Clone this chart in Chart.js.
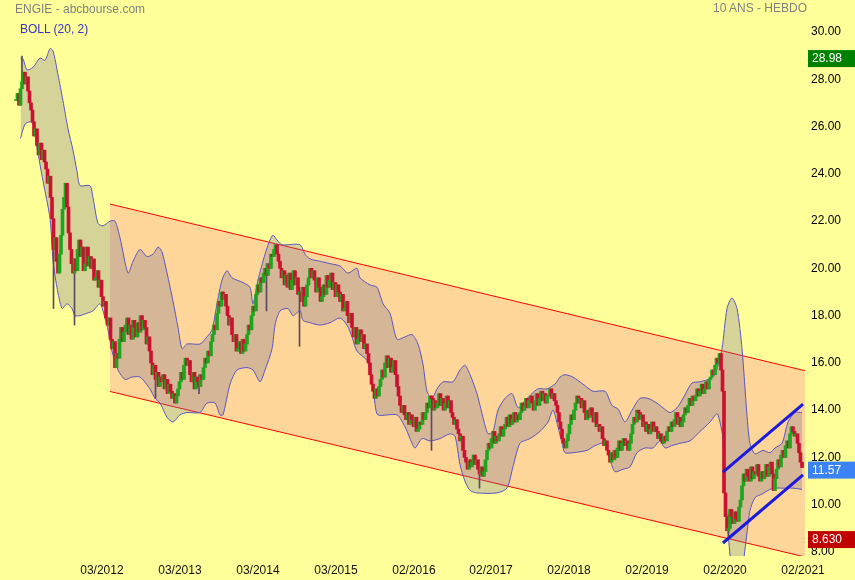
<!DOCTYPE html>
<html><head><meta charset="utf-8">
<script src="https://cdn.jsdelivr.net/npm/chart.js@4.4.1/dist/chart.umd.min.js"></script>
<style>
html,body{margin:0;padding:0;background:#ffff99;}
#wrap{position:relative;width:855px;height:580px;background:#ffff99;}
canvas{display:block;}
.t{position:absolute;font:12px "Liberation Sans",Arial,sans-serif;white-space:nowrap;line-height:14px;}
</style></head><body>
<div id="wrap"><canvas id="c" width="855" height="580"></canvas>
<div class="t" style="left:15px;top:2px;color:#808080">ENGIE - abcbourse.com</div>
<div class="t" style="left:20px;top:22px;color:#3535c0">BOLL (20, 2)</div>
<div class="t" style="left:713px;top:1px;color:#808080">10 ANS - HEBDO</div>
</div>
<script>
// weekly closes (week index 0 = first week shown)
const closes = [
27.1, 27.4, 26.9, 27.6, 27.9, 28.3, 27.8, 28.1, 27.5, 27.0,
26.7, 26.2, 25.6, 25.9, 25.2, 24.8, 25.3, 24.6, 25.0, 24.5,
24.2, 23.6, 23.9, 23.0, 22.1, 20.8, 21.3, 20.3, 19.8, 20.6,
21.4, 22.5, 23.0, 23.6, 22.6, 21.5, 20.8, 20.2, 19.8, 20.4,
19.9, 20.8, 21.2, 20.5, 20.9, 19.9, 20.2, 20.9, 20.1, 20.5,
20.0, 20.4, 19.5, 19.6, 19.9, 19.2, 19.5, 18.8, 18.4, 18.6,
17.9, 17.6, 17.9, 17.0, 16.6, 16.9, 15.8, 16.4, 16.2, 17.0,
17.5, 16.9, 17.3, 17.6, 17.9, 17.2, 17.6, 17.0, 17.8, 17.5,
17.1, 17.7, 17.3, 18.0, 17.4, 17.8, 17.5, 16.8, 17.1, 16.5,
16.0, 15.5, 15.9, 15.3, 15.6, 15.0, 15.4, 15.2, 15.5, 14.9,
15.3, 14.7, 15.1, 14.8, 14.5, 14.7, 14.3, 14.6, 14.9, 15.2,
15.6, 15.3, 15.9, 16.2, 15.9, 16.1, 15.5, 15.2, 15.6, 14.9,
15.4, 15.2, 15.0, 15.5, 15.3, 15.8, 16.2, 16.0, 16.5, 16.3,
16.9, 17.2, 17.6, 17.4, 18.1, 18.6, 18.4, 19.0, 18.7, 18.9,
18.4, 18.0, 17.6, 17.9, 17.2, 16.9, 17.2, 16.5, 16.6, 16.9,
16.4, 17.0, 16.5, 16.8, 17.2, 17.6, 17.4, 18.0, 18.4, 18.2,
18.9, 19.3, 19.0, 19.6, 19.4, 19.8, 20.0, 19.7, 20.2, 20.0,
20.6, 20.5, 20.8, 21.0, 20.6, 20.3, 20.0, 19.6, 19.9, 19.3,
19.7, 19.2, 19.8, 19.1, 19.5, 19.9, 19.3, 19.6, 18.9, 19.0,
18.6, 19.2, 18.4, 18.8, 19.3, 19.6, 20.0, 19.6, 19.9, 19.5,
19.0, 19.6, 19.2, 18.6, 18.8, 19.3, 18.9, 19.7, 19.2, 19.5,
19.8, 19.1, 19.4, 18.8, 19.3, 19.0, 18.6, 18.9, 18.2, 18.3,
18.6, 18.0, 17.7, 18.1, 17.5, 17.1, 17.5, 16.8, 17.0, 17.4,
16.9, 17.2, 16.6, 16.8, 16.4, 16.0, 15.5, 15.1, 14.8, 14.5,
14.9, 14.6, 15.0, 15.3, 15.7, 15.4, 16.0, 16.3, 15.8, 16.2,
15.6, 15.8, 16.1, 15.5, 15.0, 14.6, 14.2, 13.9, 14.2, 13.8,
13.6, 13.9, 13.4, 13.8, 13.6, 13.3, 13.7, 13.1, 13.2, 13.5,
13.4, 13.9, 13.6, 13.9, 14.3, 14.1, 14.6, 14.5, 14.0, 14.4,
14.1, 14.3, 14.7, 14.2, 14.5, 14.0, 14.3, 14.6, 14.1, 14.4,
13.9, 13.7, 13.4, 13.6, 13.2, 13.0, 12.7, 12.9, 12.3, 12.0,
11.8, 11.5, 11.9, 11.6, 11.8, 12.1, 11.7, 11.9, 11.5, 11.3,
11.6, 11.2, 11.4, 11.9, 12.3, 12.6, 12.4, 12.8, 13.1, 12.6,
12.9, 12.7, 13.0, 13.3, 12.9, 13.2, 13.4, 13.7, 13.3, 13.8,
13.4, 13.6, 13.9, 13.5, 13.8, 13.6, 13.9, 14.3, 14.0, 14.2,
14.5, 14.1, 14.4, 14.6, 14.3, 14.0, 14.4, 14.7, 14.2, 14.5,
14.8, 14.4, 14.7, 14.3, 14.6, 14.6, 14.9, 14.5, 14.7, 14.4,
14.2, 13.9, 13.5, 13.2, 12.8, 12.6, 12.4, 12.7, 13.0, 13.4,
13.8, 13.6, 14.0, 14.3, 14.6, 14.3, 14.5, 14.1, 14.4, 13.9,
13.6, 14.0, 13.7, 14.1, 13.8, 13.5, 13.9, 13.3, 13.4, 13.1,
13.3, 12.8, 12.5, 12.7, 12.3, 12.1, 11.8, 12.2, 11.9, 12.3,
12.0, 12.4, 12.7, 12.3, 12.6, 12.8, 12.5, 12.7, 12.3, 12.6,
13.0, 13.4, 13.7, 13.5, 14.0, 13.9, 13.6, 13.8, 13.3, 13.5,
13.1, 13.4, 13.0, 13.2, 13.5, 13.1, 13.3, 13.1, 12.8, 13.0,
12.7, 12.6, 12.9, 12.7, 13.1, 13.3, 13.1, 13.5, 13.3, 13.6,
13.9, 13.4, 13.7, 13.3, 13.5, 13.8, 14.1, 13.9, 14.2, 14.5,
14.2, 14.6, 14.4, 14.6, 14.9, 14.6, 14.8, 15.1, 14.7, 14.9,
15.2, 14.9, 15.3, 15.4, 15.7, 15.5, 15.9, 16.2, 16.0, 16.4,
15.7, 14.8, 10.5, 9.5, 8.9, 9.0, 9.8, 9.5, 9.2, 9.7,
9.4, 9.3, 9.9, 10.2, 10.8, 11.3, 11.0, 11.5, 11.2, 11.0,
11.6, 11.1, 11.4, 11.3, 11.7, 11.2, 11.0, 11.4, 11.1, 11.4,
11.7, 11.2, 11.6, 11.8, 11.3, 10.6, 11.1, 11.5, 11.9, 11.6,
12.1, 12.3, 12.0, 12.5, 12.7, 12.4, 13.0, 13.3, 13.1, 12.9,
13.0, 12.6, 12.2, 11.8, 11.57
];

// the long shadows visible in the picture: [week, low, high]
const notableWicks = [
[4, 27.6, 28.98], [25, 18.3, 21.3], [39, 17.6, 20.4], [93, 14.5, 15.9], [122, 14.7, 15.5],
[167, 18.2, 20.2], [189, 16.7, 19.2], [277, 12.3, 14.6], [309, 10.7, 11.6], [475, 8.63, 9.6]
];

// Bollinger (20,2) bands: [week, value]
const bollUpper = [
[3,28.9],[4.7,28.86],[7.3,28.4],[11.3,28.5],[16,28.9],[19.3,28.8],[22.7,29.3],[24.7,29.2],[28,28.2],[31.3,27.1],
[34.7,25.9],[38,25.0],[40.7,24.1],[42.7,23.5],[49.3,23.5],[51.3,23.0],[54.7,21.9],[58,21.8],[62.7,22.0],[66,22.0],
[69.3,21.3],[74.7,19.8],[78,20.3],[82.7,20.8],[87.3,20.5],[91.3,20.6],[94.7,20.9],[97.3,20.7],[100.7,19.8],[104.7,18.6],
[108,17.5],[110.7,16.6],[114,16.8],[122.7,16.8],[127.3,17.1],[130.7,17.4],[134,18.5],[137.3,19.5],[140.7,19.9],[144,19.6],
[151.3,19.4],[156,19.2],[158,18.5],[161.3,19.5],[166,20.6],[169.3,21.2],[171.3,21.4],[174,21.2],[177.3,21.0],[189.3,21.0],
[192.7,20.6],[196,20.4],[202.7,20.3],[209.3,20.2],[216,20.1],[221.3,19.8],[227.3,20.0],[229.3,19.6],[236,19.3],[240.7,19.2],
[244.7,18.5],[249.3,18.1],[254,17.0],[259.3,17.1],[264,17.2],[268,16.8],[271.3,15.95],[274,14.8],[277.3,14.5],[280.7,14.9],
[284.7,15.2],[291.3,15.2],[296,15.7],[299.3,15.9],[302.7,15.5],[307.3,14.7],[311.3,13.7],[314.7,13.0],[318,13.1],[321.3,14.0],
[326,14.5],[330.7,14.7],[334.7,14.1],[339.3,14.4],[344,14.7],[348,14.9],[354,14.9],[359.3,15.1],[362.7,15.4],[366,15.5],
[371.3,15.4],[378,15.1],[384.7,14.8],[392.7,14.8],[397.3,14.2],[401.3,14.05],[406,13.5],[410.7,14.0],[416,14.5],[421.3,14.5],
[427.3,14.3],[431.3,14.1],[436,13.9],[440.7,14.1],[444.7,14.5],[450.7,15.15],[456,15.2],[461.3,15.3],[466,15.5],[468,15.9],
[470.7,16.6],[474,18.3],[477.3,18.75],[480.7,18.3],[484,16.6],[487.3,13.8],[489.3,12.6],[492.7,12.15],[498,12.3],[502.7,12.2],
[506,12.4],[510.7,12.6],[514.7,13.5],[519.3,13.9],[524,13.9]
];
const bollLower = [
[3,25.5],[6,26.1],[9.3,26.2],[11.3,26.1],[14,25.1],[18,23.7],[22.7,22.1],[24.7,20.3],[27.3,19.2],[30.7,18.3],
[34,18.5],[37.3,18.3],[39.3,18.0],[42.7,18.0],[47.3,18.1],[51.3,18.2],[56,18.5],[59.3,17.9],[61.3,17.4],[64,16.5],
[68,15.7],[72.7,15.3],[77.3,15.4],[82.7,15.4],[89.3,14.9],[92.7,14.5],[96,14.3],[100.7,13.7],[104.7,13.5],[109.3,13.8],
[114,13.9],[122.7,13.9],[127.3,14.3],[132.7,14.3],[136,13.8],[138,13.8],[142.7,15.1],[147.3,15.7],[154,15.8],[158,15.7],
[162.7,15.2],[166,15.7],[170.7,16.6],[172.7,17.6],[176,18.2],[181.3,18.3],[184.7,18.0],[189.3,18.2],[191.3,17.8],[196,17.7],
[202.7,17.6],[209.3,17.7],[216,17.9],[220.7,17.6],[224,17.1],[227.3,16.5],[234,16.1],[237.3,15.2],[239.3,14.3],[241.3,13.8],
[254,13.8],[259.3,13.3],[262.7,12.8],[266,12.4],[270.7,12.8],[276,12.7],[282.7,12.8],[289.3,13.0],[292.7,12.9],[296,11.7],
[299.3,11.0],[302.7,10.6],[307.3,10.5],[320.7,10.5],[327.3,10.7],[331.3,11.6],[336,12.6],[342.7,12.8],[349.3,13.1],[354.7,13.5],
[358,14.0],[361.3,13.3],[364,12.6],[366,12.2],[371.3,12.2],[380.7,12.3],[386,12.5],[392.7,12.6],[396,11.9],[399.3,11.4],
[404.7,11.5],[409.3,11.6],[414,12.2],[419.3,12.4],[424.7,12.4],[429.3,12.7],[432.7,12.4],[437.3,12.5],[442.7,12.6],[449.3,12.7],
[456,13.1],[462.7,13.5],[467.3,13.85],[469.3,13.5],[471.3,12.8],[472.7,10.2],[474.7,8.8],[477.3,7.2],[480.7,6.6],[484,7.2],
[487.3,8.8],[489.3,9.75],[492.7,10.3],[497.3,10.45],[501.3,10.6],[504.7,10.7],[511.3,10.7],[518,10.7],[524,10.65]
];

// drawn trend channels: [week, value] end points
const channelTop = [[62.7,22.72],[526,15.67]];
const channelBottom = [[62.7,14.79],[526,7.79]];
const trendTop = [[471.3,11.38],[524.7,14.26]];
const trendBottom = [[471.3,8.38],[524.7,11.26]];

// axes
const xTickWeeks = [57.3, 109.3, 161.3, 213.3, 265.3, 316.7, 368.7, 420.7, 472.7, 524.7];
const xTickLabels = ['03/2012','03/2013','03/2014','03/2015','02/2016','02/2017','02/2018','02/2019','02/2020','02/2021'];
const yTickValues = [8,10,12,14,16,18,20,22,24,26,28,30];

// price tags on the right axis
const tagValues = [28.98, 11.57, 8.63];
const tagLabels = ['28.98', '11.57', '8.630'];
const tagColors = ['#008000', '#3b82f6', '#c00000'];

const FONT = '"Liberation Sans", Arial, sans-serif';
const GREEN = '#1ea51e', RED = '#cc1030';

const candles = closes.map((c, i) => ({x: i, y: [i === 0 ? c : closes[i - 1], c]}));
const wicks = notableWicks.map(w => ({x: w[0], y: [w[1], w[2]]}));
const pts = arr => arr.map(p => ({x: p[0], y: p[1]}));

const tagPlugin = {
  id: 'tags',
  afterDraw(chart) {
    const ctx = chart.ctx, ys = chart.scales.y, area = chart.chartArea;
    ctx.save();
    ctx.font = '12px ' + FONT;
    ctx.textBaseline = 'middle';
    ctx.textAlign = 'left';
    tagValues.forEach((v, i) => {
      const y = ys.getPixelForValue(v) + 2.5;
      ctx.fillStyle = tagColors[i];
      ctx.fillRect(area.right + 3, y - 8.5, chart.width - area.right - 3, 17);
      ctx.fillStyle = '#ffffff';
      ctx.fillText(tagLabels[i], area.right + 7, y + 0.5);
    });
    ctx.restore();
  }
};

new Chart(document.getElementById('c'), {
  type: 'line',
  data: {
    datasets: [
      {data: pts(channelTop), borderColor: '#ff0000', borderWidth: 1, pointRadius: 0,
       fill: 1, backgroundColor: '#ffd699', order: 10},
      {data: pts(channelBottom), borderColor: '#ff0000', borderWidth: 1, pointRadius: 0, fill: false, order: 9},
      {data: pts(bollUpper), borderColor: '#5a55c0', borderWidth: 1, pointRadius: 0, tension: 0.25,
       fill: 3, backgroundColor: 'rgba(115,110,150,0.30)', order: 8},
      {data: pts(bollLower), borderColor: '#5a55c0', borderWidth: 1, pointRadius: 0, tension: 0.25, fill: false, order: 7},
      {type: 'bar', data: wicks, barThickness: 1, borderWidth: 0, backgroundColor: '#5b4b60', order: 6},
      {type: 'bar', data: candles, barThickness: 3, minBarLength: 1, borderWidth: 0, grouped: false,
       backgroundColor: c => (c.raw && c.raw.y[1] < c.raw.y[0]) ? RED : GREEN, order: 5},
      {data: pts(trendTop), borderColor: '#1a1ae0', borderWidth: 3, pointRadius: 0, fill: false, order: 1},
      {data: pts(trendBottom), borderColor: '#1a1ae0', borderWidth: 3, pointRadius: 0, fill: false, order: 0}
    ]
  },
  options: {
    responsive: false, animation: false, events: [],
    layout: {padding: 0},
    plugins: {legend: {display: false}, tooltip: {enabled: false}},
    scales: {
      x: {
        type: 'linear', min: -10.67, max: 526, offset: false,
        grid: {display: false, drawTicks: false}, border: {display: false},
        afterBuildTicks: s => { s.ticks = xTickWeeks.map(v => ({value: v})); },
        afterFit: s => { s.height = 24; s.paddingLeft = 0; s.paddingRight = 0; },
        ticks: {autoSkip: false, maxRotation: 0, padding: 7, color: '#111',
                font: {size: 12, family: FONT}, callback: (v, i) => xTickLabels[i]}
      },
      y: {
        position: 'right', min: 7.83, max: 31.354,
        grid: {display: false, drawTicks: false}, border: {display: false},
        afterBuildTicks: s => { s.ticks = yTickValues.map(v => ({value: v})); },
        afterFit: s => { s.width = 50; s.paddingTop = 0; s.paddingBottom = 0; },
        ticks: {padding: 6, color: '#000', font: {size: 12, family: FONT},
                callback: v => Number(v).toFixed(2)}
      }
    }
  },
  plugins: [tagPlugin]
});
</script>
</body></html>
